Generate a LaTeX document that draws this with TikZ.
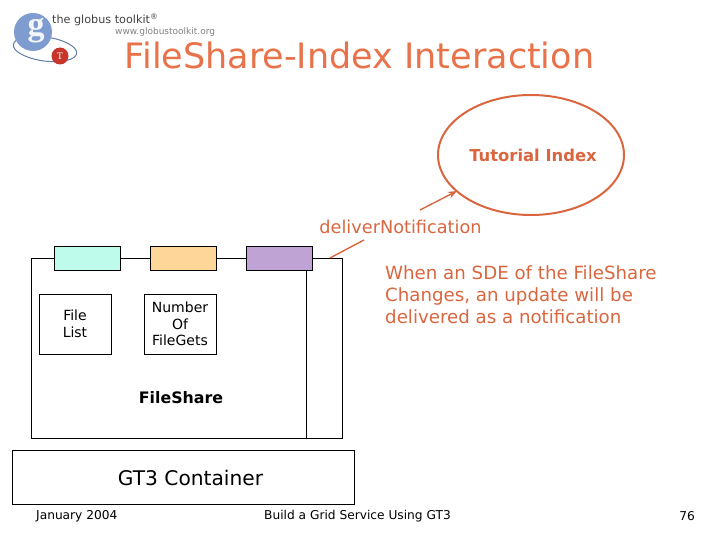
\documentclass[tikz,border=0pt]{standalone}
\usepackage{fontspec}
\setmainfont{DejaVu Sans}
\newfontfamily\logofont{Liberation Serif}
\usetikzlibrary{arrows.meta,shapes.geometric}
\definecolor{titleorange}{HTML}{E8734A}
\definecolor{noteorange}{HTML}{D9663F}
\definecolor{logoblue}{HTML}{7F9CD0}
\definecolor{logored}{HTML}{C8352B}
\tikzset{
  box/.style={draw=black,line width=0.9pt,inner sep=0pt},
  portbox/.style={box,minimum width=66,minimum height=24},
  note/.style={text=noteorange,align=left,font=\fontsize{18.2}{22}\selectfont},
  small/.style={text=black,align=center,font=\fontsize{14}{16.5}\selectfont},
  foot/.style={text=black,font=\fontsize{12.2}{14}\selectfont},
  notice/.style={draw=noteorange,line width=1.4pt}
}
\begin{document}
\begin{tikzpicture}[x=1pt,y=-1pt]
    \useasboundingbox (0,0) rectangle (720,540);
    % logo
    \draw[logoblue!80!black,line width=1pt] (45,49) ellipse[x radius=32,y radius=12,rotate=-8];
    \node[circle,fill=logoblue,minimum size=38,inner sep=0pt] (logoG) at (33,32) {};
    \node[text=white!90!logoblue,font=\logofont\bfseries\fontsize{34}{34}\selectfont] (logoLetter) at (36,31) {g};
    \node[circle,fill=logored,minimum size=17,inner sep=0pt,text=white,font=\logofont\fontsize{10}{10}\selectfont] (logoT) at (60,56) {T};
    \node[anchor=west,inner sep=0pt,text=black!75,font=\fontsize{11.2}{12}\selectfont] (logoName) at (52,20) {the globus toolkit\textsuperscript{®}};
    \node[anchor=west,inner sep=0pt,text=black!50,font=\fontsize{9}{9}\selectfont] (logoUrl) at (115,32) {www.globustoolkit.org};
    % title and index
    \node[text=titleorange,font=\fontsize{35}{36}\selectfont] (title) at (359.5,55) {FileShare-Index Interaction};
    \node[ellipse,draw=noteorange,line width=2pt,minimum width=186,minimum height=120,inner sep=0pt] (index) at (531,155) {};
    \node[text=noteorange,font=\bfseries\fontsize{16.4}{17}\selectfont] (indexLabel) at (533,155) {Tutorial Index};
    % service
    \node[box,minimum width=311,minimum height=180] (fileShare) at (186.5,348) {};
    \draw[box] (306.5,270) -- (306.5,438);
    \def\ports{(87,258)/BFFBEA,(183,258)/FFD699,(279,258)/BFA3D4}
    \foreach \p/\c [count=\i from 1] in \ports {\definecolor{portcolor}{HTML}{\c}\node[portbox,fill=portcolor] (port\i) at \p {};}
    \node[box,small,minimum width=72,minimum height=60] (fileList) at (75,324) {File\\List};
    \node[box,small,minimum width=72,minimum height=60] (numGets) at (180,324) {Number\\Of\\FileGets};
    \node[font=\bfseries\fontsize{15.8}{17}\selectfont] (shareLabel) at (181,398) {FileShare};
    \node[box,minimum width=342,minimum height=54] (container) at (183,477) {};
    \node[font=\fontsize{20.2}{21}\selectfont] (containerLabel) at (190.5,478) {GT3 Container};
    % notification
    \node[text=noteorange,font=\fontsize{17.7}{19}\selectfont] (deliver) at (400.5,227) {deliverNotification};
    \coordinate (shareCorner) at (330,258);
    \coordinate (deliverLow) at (364,240);
    \coordinate (deliverHigh) at (420,210);
    \coordinate (indexRim) at (457,191);
    \draw[notice] (shareCorner) -- (deliverLow);
    \draw[notice,-{Stealth[length=9pt,width=7pt]}] (deliverHigh) -- (indexRim);
    \node[note,anchor=north west,inner sep=0pt] (changeNote) at (385,265) {When an SDE of the FileShare\\Changes, an update will be\\delivered as a notification};
    % footer
    \node[foot,anchor=west,inner sep=0pt] (date) at (36,516) {January 2004};
    \node[foot,anchor=west,inner sep=0pt] (course) at (264,516) {Build a Grid Service Using GT3};
    \node[foot,anchor=east,inner sep=0pt] (page) at (695,516) {76};
\end{tikzpicture}
\end{document}
